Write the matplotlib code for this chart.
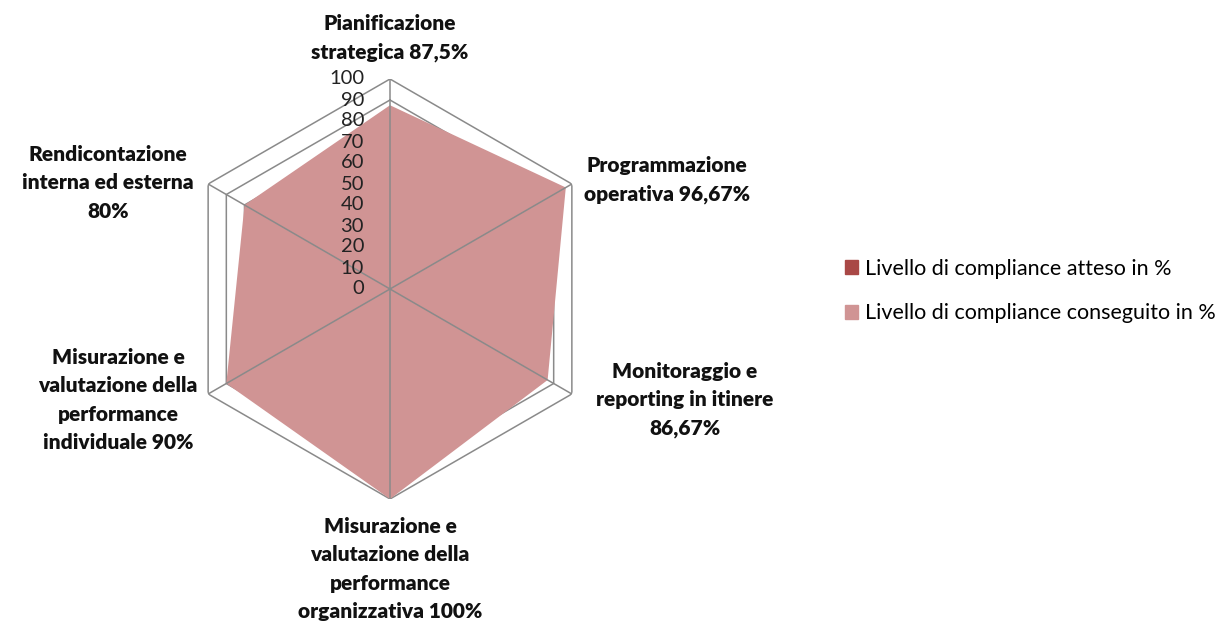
import numpy as np
import matplotlib
matplotlib.use('Agg')
import matplotlib.pyplot as plt
from matplotlib.patches import Patch
from matplotlib.transforms import offset_copy

plt.rcParams['font.family'] = ['Lato', 'DejaVu Sans']

# data
categories = ['Pianificazione\nstrategica 87,5%',
              'Programmazione\noperativa 96,67%',
              'Monitoraggio e\nreporting in itinere\n86,67%',
              'Misurazione e\nvalutazione della\nperformance\norganizzativa 100%',
              'Misurazione e\nvalutazione della\nperformance\nindividuale 90%',
              'Rendicontazione\ninterna ed esterna\n80%']
conseguito = [87.5, 96.67, 86.67, 100, 90, 80]
series_names = ['Livello di compliance atteso in %', 'Livello di compliance conseguito in %']
series_colors = ['#A94846', '#D09494']
ticks = [0, 10, 20, 30, 40, 50, 60, 70, 80, 90, 100]

# label positions (pixels in the 1231x625 picture)
label_pos = [(390, 38), (667, 180), (685, 400), (390, 569), (118, 400), (108, 183)]

W, H = 1231, 625
fig = plt.figure(figsize=(W / 100, H / 100), dpi=100)
ax = fig.add_axes([180 / W, 1 - 499 / H, 420 / W, 420 / H], projection='polar')
ax.set_theta_zero_location('N')
ax.set_theta_direction(-1)
ax.set_ylim(0, 100)
ax.grid(False)
ax.spines['polar'].set_visible(False)
ax.set_xticks([])
ax.set_yticks([])
ax.patch.set_alpha(0)

n = len(categories)
angles = np.linspace(0, 2 * np.pi, n, endpoint=False)
closed = np.append(angles, angles[0])

gridcol = '#8A8A8A'
for t in ticks[1:]:
    ax.plot(closed, [t] * (n + 1), color=gridcol, lw=1.1, zorder=1)

vals = conseguito + conseguito[:1]
ax.fill(closed, vals, color=series_colors[1], lw=0, zorder=2)

for a in angles:
    ax.plot([a, a], [0, 100], color=gridcol, lw=1.1, zorder=3)

trans = offset_copy(ax.transData, fig=fig, x=-26, y=0, units='dots')
for t in ticks:
    ax.text(0, t, str(t), transform=trans, ha='right', va='center',
            fontsize=14.5, color='#222222', zorder=4)

for lab, (px, py) in zip(categories, label_pos):
    fig.text(px / W, 1 - py / H, lab, ha='center', va='center', fontsize=15,
             fontweight='heavy', color='#111111', linespacing=1.6)

handles = [Patch(color=c) for c in series_colors]
fig.legend(handles, series_names, loc='center left', bbox_to_anchor=(834 / W, 1 - 291 / H),
           frameon=False, fontsize=15.5, handlelength=0.6, handleheight=0.6,
           handletextpad=0.35, labelspacing=1.15, borderpad=0)

fig.savefig('out.png', dpi=100)
